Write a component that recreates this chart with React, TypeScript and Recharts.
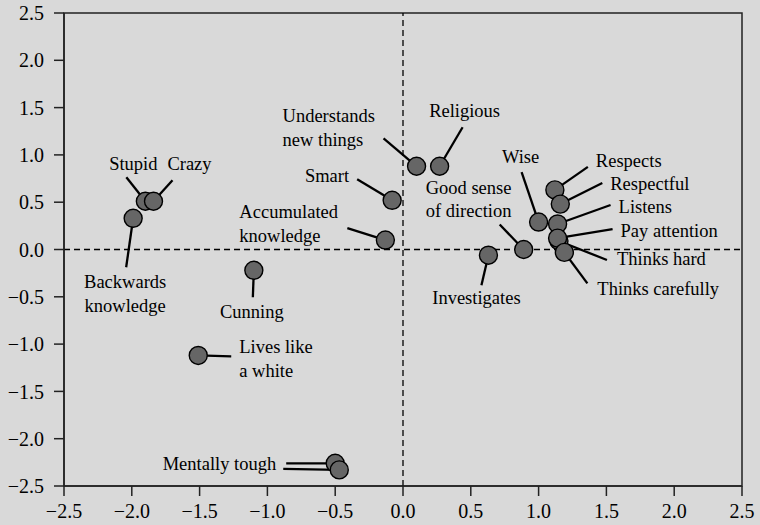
import React from 'react';
import { ScatterChart, Scatter, XAxis, YAxis, ReferenceLine, ReferenceArea } from 'recharts';

// correspondence map: traits on two dimensions
const traits = [
  'Stupid', 'Crazy', 'Backwards\nknowledge', 'Cunning', 'Lives like\na white',
  'Mentally tough', 'Mentally tough', 'Accumulated\nknowledge', 'Smart',
  'Understands\nnew things', 'Religious', 'Investigates', 'Good sense\nof direction',
  'Wise', 'Respects', 'Respectful', 'Listens', 'Thinks hard', 'Pay attention', 'Thinks carefully',
];
const dim1 = [-1.9, -1.84, -1.99, -1.1, -1.51, -0.5, -0.47, -0.13, -0.08, 0.1, 0.27, 0.63, 0.89, 1.0, 1.12, 1.16, 1.14, 1.15, 1.14, 1.19];
const dim2 = [0.51, 0.51, 0.33, -0.22, -1.12, -2.26, -2.33, 0.1, 0.52, 0.88, 0.88, -0.06, 0.0, 0.29, 0.63, 0.48, 0.27, 0.09, 0.12, -0.03];
const axisTicks = [-2.5, -2, -1.5, -1, -0.5, 0, 0.5, 1, 1.5, 2, 2.5];

// leader end [lx, ly] and label anchor [tx, ty, anchor] in px from the dot centre (same order as traits)
type Anchor = 'start' | 'middle' | 'end';
const layout: [number, number, number | null, number, Anchor][] = [
  [-19, -24, -12, -31, 'middle'],
  [19, -21, 36, -31, 'middle'],
  [-7, 49, -8, 70, 'middle'],
  [-1, 27, -2, 48, 'middle'],
  [33, 1, 41, -2, 'start'],
  [-49, 0, -59, 7, 'end'],
  [-56, -1, null, 0, 'end'],
  [-38, -12, -146, -22, 'start'],
  [-35, -21, -43, -18, 'end'],
  [-33, -28, -134, -44, 'start'],
  [23, -39, 25, -49, 'middle'],
  [-7, 30, -12, 49, 'middle'],
  [-24, -25, -98, -56, 'start'],
  [-17, -50, -18, -59, 'middle'],
  [33, -23, 41, -23, 'start'],
  [42, -21, 50, -14, 'start'],
  [53, -19, 61, -11, 'start'],
  [48, 19, 58, 24, 'start'],
  [55, -9, 63, -1, 'start'],
  [23, 31, 33, 43, 'start'],
];

const points = traits.map((name, i) => ({ name, x: dim1[i], y: dim2[i], i }));

const FONT = "'Liberation Serif', Tinos, 'Times New Roman', serif";
const fmt = (v: number) => (v < 0 ? '\u2212' : '') + Math.abs(v).toFixed(1);

function centre(p: any) {
  const cx = p.cx ?? p.x + (p.width ?? 0) / 2;
  const cy = p.cy ?? p.y + (p.height ?? 0) / 2;
  return [cx, cy];
}

function Leader(p: any) {
  const [cx, cy] = centre(p);
  const idx = p.payload.i;
  const [lx, ly, tx, ty, anchor] = layout[idx];
  const lines = String(p.payload.name).split('\n');
  return (
    <g>
      <line x1={cx} y1={cy} x2={cx + lx} y2={cy + ly} stroke="#000" strokeWidth={2.3} />
      {tx !== null && (
        <text x={cx + tx} y={cy + ty} textAnchor={anchor} style={{ fontFamily: FONT, fontSize: 18.5 }} fill="#000">
          {lines.map((l, k) => (
            <tspan key={k} x={cx + tx} dy={k === 0 ? 0 : 23.5}>{l}</tspan>
          ))}
        </text>
      )}
    </g>
  );
}

function Dot(p: any) {
  const [cx, cy] = centre(p);
  return <circle cx={cx} cy={cy} r={9} fill="#666666" stroke="#000" strokeWidth={1.4} />;
}

export default function App() {
  const tick = { fill: '#000', fontSize: 20, fontFamily: FONT };
  const axisLine = { stroke: '#222', strokeWidth: 1.5 };
  return (
    <div style={{ position: 'absolute', left: 0, top: 0, width: 760, height: 525, background: '#d9d9d9', fontFamily: FONT }}>
      <ScatterChart width={760} height={525} margin={{ top: 13, right: 18, bottom: 0, left: 0 }}>
        <XAxis
          type="number" dataKey="x" domain={[-2.5, 2.5]} ticks={axisTicks} tickFormatter={fmt}
          height={39} tickSize={10} tickMargin={8} tick={tick} axisLine={axisLine} tickLine={axisLine}
          interval={0} allowDecimals
        />
        <YAxis
          type="number" dataKey="y" domain={[-2.5, 2.5]} ticks={axisTicks} tickFormatter={fmt}
          width={64} tickSize={10} tickMargin={10} tick={tick} axisLine={axisLine} tickLine={axisLine}
          interval={0} allowDecimals
        />
        <ReferenceArea x1={-2.5} x2={2.5} y1={-2.5} y2={2.5} fill="none" fillOpacity={0} stroke="#222" strokeWidth={1.5} />
        <ReferenceLine x={0} stroke="#000" strokeWidth={1.3} strokeDasharray="6 4" />
        <ReferenceLine y={0} stroke="#000" strokeWidth={1.3} strokeDasharray="6 4" />
        <Scatter data={points} shape={Leader} isAnimationActive={false} />
        <Scatter data={points} shape={Dot} isAnimationActive={false} />
      </ScatterChart>
    </div>
  );
}
